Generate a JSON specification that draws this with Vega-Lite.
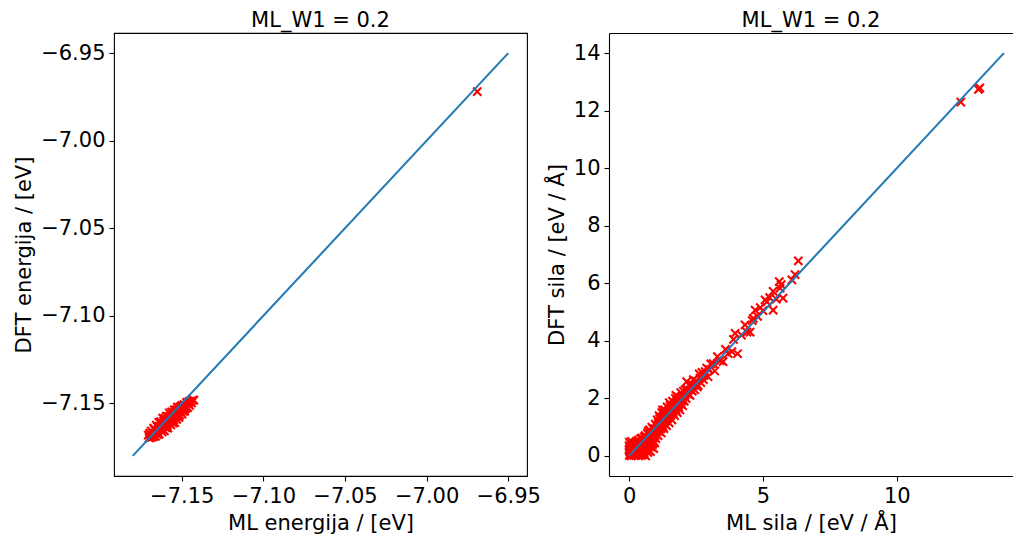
{
  "$schema": "https://vega.github.io/schema/vega-lite/v6.json",
  "padding": {"left": 13, "top": 9, "right": 0, "bottom": 2},
  "bounds": "flush",
  "spacing": 82,
  "datasets": {
    "energy": [
      {"ml": -7.1705, "dft": -7.1681}, {"ml": -7.1700, "dft": -7.1698}, {"ml": -7.1696, "dft": -7.1670}, {"ml": -7.1690, "dft": -7.1695},
      {"ml": -7.1687, "dft": -7.1658}, {"ml": -7.1681, "dft": -7.1693}, {"ml": -7.1678, "dft": -7.1666}, {"ml": -7.1672, "dft": -7.1642},
      {"ml": -7.1669, "dft": -7.1689}, {"ml": -7.1665, "dft": -7.1651}, {"ml": -7.1660, "dft": -7.1688}, {"ml": -7.1656, "dft": -7.1625},
      {"ml": -7.1652, "dft": -7.1662}, {"ml": -7.1649, "dft": -7.1634}, {"ml": -7.1645, "dft": -7.1671}, {"ml": -7.1641, "dft": -7.1608},
      {"ml": -7.1638, "dft": -7.1676}, {"ml": -7.1634, "dft": -7.1633}, {"ml": -7.1631, "dft": -7.1611}, {"ml": -7.1627, "dft": -7.1653},
      {"ml": -7.1624, "dft": -7.1616}, {"ml": -7.1620, "dft": -7.1663}, {"ml": -7.1617, "dft": -7.1585}, {"ml": -7.1613, "dft": -7.1632},
      {"ml": -7.1610, "dft": -7.1600}, {"ml": -7.1606, "dft": -7.1657}, {"ml": -7.1603, "dft": -7.1585}, {"ml": -7.1600, "dft": -7.1613},
      {"ml": -7.1597, "dft": -7.1640}, {"ml": -7.1594, "dft": -7.1573}, {"ml": -7.1591, "dft": -7.1621}, {"ml": -7.1588, "dft": -7.1594},
      {"ml": -7.1585, "dft": -7.1641}, {"ml": -7.1582, "dft": -7.1574}, {"ml": -7.1579, "dft": -7.1602}, {"ml": -7.1576, "dft": -7.1555},
      {"ml": -7.1573, "dft": -7.1617}, {"ml": -7.1570, "dft": -7.1575}, {"ml": -7.1567, "dft": -7.1623}, {"ml": -7.1564, "dft": -7.1566},
      {"ml": -7.1561, "dft": -7.1593}, {"ml": -7.1558, "dft": -7.1551}, {"ml": -7.1555, "dft": -7.1609}, {"ml": -7.1552, "dft": -7.1572},
      {"ml": -7.1549, "dft": -7.1594}, {"ml": -7.1546, "dft": -7.1537}, {"ml": -7.1543, "dft": -7.1610}, {"ml": -7.1540, "dft": -7.1558},
      {"ml": -7.1537, "dft": -7.1580}, {"ml": -7.1534, "dft": -7.1538}, {"ml": -7.1531, "dft": -7.1591}, {"ml": -7.1528, "dft": -7.1539},
      {"ml": -7.1525, "dft": -7.1561}, {"ml": -7.1522, "dft": -7.1524}, {"ml": -7.1519, "dft": -7.1577}, {"ml": -7.1516, "dft": -7.1535},
      {"ml": -7.1513, "dft": -7.1567}, {"ml": -7.1510, "dft": -7.1520}, {"ml": -7.1506, "dft": -7.1552}, {"ml": -7.1502, "dft": -7.1519},
      {"ml": -7.1498, "dft": -7.1561}, {"ml": -7.1494, "dft": -7.1518}, {"ml": -7.1490, "dft": -7.1545}, {"ml": -7.1486, "dft": -7.1507},
      {"ml": -7.1482, "dft": -7.1544}, {"ml": -7.1478, "dft": -7.1511}, {"ml": -7.1473, "dft": -7.1527}, {"ml": -7.1468, "dft": -7.1499},
      {"ml": -7.1463, "dft": -7.1525}, {"ml": -7.1458, "dft": -7.1501}, {"ml": -7.1452, "dft": -7.1512}, {"ml": -7.1446, "dft": -7.1487},
      {"ml": -7.1440, "dft": -7.1498}, {"ml": -7.1433, "dft": -7.1482}, {"ml": -7.1426, "dft": -7.1482},
      {"ml": -7.1668, "dft": -7.1649}, {"ml": -7.1658, "dft": -7.1671}, {"ml": -7.1648, "dft": -7.1679}, {"ml": -7.1639, "dft": -7.1632},
      {"ml": -7.1629, "dft": -7.1604}, {"ml": -7.1619, "dft": -7.1647}, {"ml": -7.1609, "dft": -7.1609}, {"ml": -7.1599, "dft": -7.1592},
      {"ml": -7.1589, "dft": -7.1629}, {"ml": -7.1580, "dft": -7.1583}, {"ml": -7.1571, "dft": -7.1606}, {"ml": -7.1562, "dft": -7.1549},
      {"ml": -7.1553, "dft": -7.1612}, {"ml": -7.1544, "dft": -7.1551}, {"ml": -7.1535, "dft": -7.1574}, {"ml": -7.1526, "dft": -7.1522},
      {"ml": -7.1517, "dft": -7.1580}, {"ml": -7.1508, "dft": -7.1544}, {"ml": -7.1499, "dft": -7.1512}, {"ml": -7.1489, "dft": -7.1529},
      {"ml": -7.1480, "dft": -7.1533}, {"ml": -7.1470, "dft": -7.1495}, {"ml": -7.1676, "dft": -7.1680}, {"ml": -7.1692, "dft": -7.1677},
      {"ml": -7.1456, "dft": -7.1490},
      {"ml": -6.969, "dft": -6.972}
    ],
    "force": [
      {"ml": 0.01, "dft": 0.02}, {"ml": 0.02, "dft": 0.15}, {"ml": 0.03, "dft": 0.3}, {"ml": 0.05, "dft": 0.42}, {"ml": 0.04, "dft": 0.08},
      {"ml": 0.08, "dft": 0.0}, {"ml": 0.1, "dft": 0.22}, {"ml": 0.12, "dft": 0.35}, {"ml": 0.15, "dft": 0.05}, {"ml": 0.18, "dft": 0.28},
      {"ml": 0.2, "dft": 0.12}, {"ml": 0.22, "dft": 0.45}, {"ml": 0.25, "dft": 0.02}, {"ml": 0.28, "dft": 0.2}, {"ml": 0.3, "dft": 0.38},
      {"ml": 0.32, "dft": 0.1}, {"ml": 0.35, "dft": 0.55}, {"ml": 0.38, "dft": 0.25}, {"ml": 0.4, "dft": 0.05}, {"ml": 0.42, "dft": 0.45},
      {"ml": 0.45, "dft": 0.15}, {"ml": 0.48, "dft": 0.62}, {"ml": 0.5, "dft": 0.32}, {"ml": 0.52, "dft": 0.04}, {"ml": 0.55, "dft": 0.5},
      {"ml": 0.58, "dft": 0.2}, {"ml": 0.6, "dft": 0.7}, {"ml": 0.62, "dft": 0.0}, {"ml": 0.65, "dft": 0.4}, {"ml": 0.68, "dft": 0.78},
      {"ml": 0.7, "dft": 0.12}, {"ml": 0.72, "dft": 0.6}, {"ml": 0.0, "dft": 0.2}, {"ml": 0.0, "dft": 0.35}, {"ml": 0.01, "dft": 0.48},
      {"ml": 0.06, "dft": 0.18}, {"ml": 0.09, "dft": 0.5}, {"ml": 0.14, "dft": 0.4}, {"ml": 0.16, "dft": 0.15}, {"ml": 0.24, "dft": 0.3},
      {"ml": 0.27, "dft": 0.5}, {"ml": 0.33, "dft": 0.02}, {"ml": 0.36, "dft": 0.4}, {"ml": 0.44, "dft": 0.3}, {"ml": 0.46, "dft": 0.02},
      {"ml": 0.54, "dft": 0.25}, {"ml": 0.57, "dft": 0.65}, {"ml": 0.64, "dft": 0.22}, {"ml": 0.66, "dft": 0.55}, {"ml": 0.74, "dft": 0.35},
      {"ml": 0.76, "dft": 0.9}, {"ml": 0.78, "dft": 0.5}, {"ml": 0.8, "dft": 0.15}, {"ml": 0.82, "dft": 0.7}, {"ml": 0.85, "dft": 1.0},
      {"ml": 0.88, "dft": 0.4}, {"ml": 0.9, "dft": 0.65}, {"ml": 0.92, "dft": 0.25}, {"ml": 0.95, "dft": 0.85}, {"ml": 0.98, "dft": 1.1},
      {"ml": 1.0, "dft": 0.6},
      {"ml": 0.05, "dft": 0.25}, {"ml": 0.1, "dft": 0.05}, {"ml": 0.13, "dft": 0.12}, {"ml": 0.17, "dft": 0.38}, {"ml": 0.19, "dft": 0.02},
      {"ml": 0.21, "dft": 0.25}, {"ml": 0.23, "dft": 0.1}, {"ml": 0.26, "dft": 0.42}, {"ml": 0.29, "dft": 0.08}, {"ml": 0.31, "dft": 0.28},
      {"ml": 0.34, "dft": 0.18}, {"ml": 0.37, "dft": 0.08}, {"ml": 0.39, "dft": 0.48}, {"ml": 0.41, "dft": 0.22}, {"ml": 0.43, "dft": 0.6},
      {"ml": 0.47, "dft": 0.4}, {"ml": 0.49, "dft": 0.12}, {"ml": 0.51, "dft": 0.55}, {"ml": 0.53, "dft": 0.35}, {"ml": 0.56, "dft": 0.1},
      {"ml": 0.59, "dft": 0.45}, {"ml": 0.61, "dft": 0.3}, {"ml": 0.63, "dft": 0.6}, {"ml": 0.67, "dft": 0.3}, {"ml": 0.69, "dft": 0.5},
      {"ml": 0.71, "dft": 0.85}, {"ml": 0.73, "dft": 0.2}, {"ml": 0.75, "dft": 0.65}, {"ml": 0.77, "dft": 0.4}, {"ml": 0.79, "dft": 0.75},
      {"ml": 0.81, "dft": 0.45}, {"ml": 0.83, "dft": 0.3}, {"ml": 0.86, "dft": 0.6}, {"ml": 0.87, "dft": 0.8}, {"ml": 0.89, "dft": 0.95},
      {"ml": 0.91, "dft": 0.5}, {"ml": 0.93, "dft": 0.7}, {"ml": 0.96, "dft": 0.45}, {"ml": 0.97, "dft": 0.95}, {"ml": 0.99, "dft": 0.8},
      {"ml": 1.03, "dft": 1.05}, {"ml": 1.06, "dft": 0.9}, {"ml": 1.09, "dft": 1.15}, {"ml": 1.11, "dft": 0.85}, {"ml": 1.14, "dft": 1.3},
      {"ml": 1.16, "dft": 1.1}, {"ml": 1.19, "dft": 0.95}, {"ml": 1.21, "dft": 1.3}, {"ml": 1.24, "dft": 1.2}, {"ml": 1.27, "dft": 1.0},
      {"ml": 1.29, "dft": 1.5}, {"ml": 1.32, "dft": 1.25}, {"ml": 1.36, "dft": 1.35}, {"ml": 1.39, "dft": 1.25}, {"ml": 1.41, "dft": 1.45},
      {"ml": 1.44, "dft": 1.55}, {"ml": 1.47, "dft": 1.35}, {"ml": 1.52, "dft": 1.45}, {"ml": 1.57, "dft": 1.5}, {"ml": 1.61, "dft": 1.6},
      {"ml": 1.66, "dft": 1.65}, {"ml": 1.72, "dft": 1.7}, {"ml": 1.77, "dft": 1.75}, {"ml": 1.82, "dft": 1.85}, {"ml": 1.87, "dft": 1.8},
      {"ml": 1.92, "dft": 1.95}, {"ml": 1.97, "dft": 1.9}, {"ml": 2.08, "dft": 2.1}, {"ml": 2.18, "dft": 2.3}, {"ml": 2.3, "dft": 2.3},
      {"ml": 2.42, "dft": 2.45}, {"ml": 2.52, "dft": 2.5}, {"ml": 2.65, "dft": 2.7}, {"ml": 2.8, "dft": 2.8}, {"ml": 3.0, "dft": 3.0},
      {"ml": 1.25, "dft": 1.6}, {"ml": 1.5, "dft": 1.85}, {"ml": 1.75, "dft": 2.1},
      {"ml": 1.02, "dft": 0.85}, {"ml": 1.05, "dft": 1.25}, {"ml": 1.08, "dft": 0.7}, {"ml": 1.1, "dft": 1.05}, {"ml": 1.12, "dft": 1.4},
      {"ml": 1.15, "dft": 0.95}, {"ml": 1.18, "dft": 1.2}, {"ml": 1.2, "dft": 0.8}, {"ml": 1.22, "dft": 1.5}, {"ml": 1.25, "dft": 1.05},
      {"ml": 1.28, "dft": 1.35}, {"ml": 1.3, "dft": 0.95}, {"ml": 1.33, "dft": 1.6}, {"ml": 1.35, "dft": 1.2}, {"ml": 1.38, "dft": 1.45},
      {"ml": 1.4, "dft": 1.05}, {"ml": 1.42, "dft": 1.7}, {"ml": 1.45, "dft": 1.3}, {"ml": 1.48, "dft": 1.55}, {"ml": 1.5, "dft": 1.15},
      {"ml": 1.53, "dft": 1.75}, {"ml": 1.55, "dft": 1.4}, {"ml": 1.58, "dft": 1.65}, {"ml": 1.6, "dft": 1.25}, {"ml": 1.62, "dft": 1.9},
      {"ml": 1.65, "dft": 1.5}, {"ml": 1.68, "dft": 1.75}, {"ml": 1.7, "dft": 1.4}, {"ml": 1.73, "dft": 2.0}, {"ml": 1.75, "dft": 1.6},
      {"ml": 1.78, "dft": 1.85}, {"ml": 1.8, "dft": 1.5}, {"ml": 1.83, "dft": 2.05}, {"ml": 1.85, "dft": 1.7}, {"ml": 1.88, "dft": 1.95},
      {"ml": 1.9, "dft": 1.6}, {"ml": 1.93, "dft": 2.2}, {"ml": 1.95, "dft": 1.8}, {"ml": 1.98, "dft": 2.05}, {"ml": 2.0, "dft": 1.75},
      {"ml": 2.03, "dft": 2.25}, {"ml": 2.06, "dft": 1.9}, {"ml": 2.1, "dft": 2.3}, {"ml": 2.13, "dft": 2.0}, {"ml": 2.15, "dft": 2.58},
      {"ml": 2.2, "dft": 2.15}, {"ml": 2.25, "dft": 2.45}, {"ml": 2.28, "dft": 2.1}, {"ml": 2.32, "dft": 2.5}, {"ml": 2.36, "dft": 2.25},
      {"ml": 2.4, "dft": 2.65}, {"ml": 2.45, "dft": 2.3}, {"ml": 2.5, "dft": 2.6}, {"ml": 2.55, "dft": 2.4}, {"ml": 2.58, "dft": 2.45},
      {"ml": 2.62, "dft": 2.85}, {"ml": 2.68, "dft": 2.55}, {"ml": 2.72, "dft": 2.9}, {"ml": 2.78, "dft": 2.65}, {"ml": 2.84, "dft": 2.93},
      {"ml": 2.9, "dft": 3.05}, {"ml": 2.95, "dft": 2.75},
      {"ml": 3.05, "dft": 3.2}, {"ml": 3.14, "dft": 3.21}, {"ml": 3.2, "dft": 2.95}, {"ml": 3.3, "dft": 3.45}, {"ml": 3.4, "dft": 3.3},
      {"ml": 3.51, "dft": 3.28}, {"ml": 3.6, "dft": 3.7}, {"ml": 3.7, "dft": 3.55}, {"ml": 3.84, "dft": 3.62}, {"ml": 3.9, "dft": 4.05},
      {"ml": 3.96, "dft": 4.26}, {"ml": 4.05, "dft": 3.55},
      {"ml": 4.2, "dft": 4.2}, {"ml": 4.33, "dft": 4.55}, {"ml": 4.4, "dft": 4.3}, {"ml": 4.52, "dft": 4.3}, {"ml": 4.6, "dft": 4.7},
      {"ml": 4.64, "dft": 4.78}, {"ml": 4.71, "dft": 5.07}, {"ml": 4.8, "dft": 4.85}, {"ml": 4.9, "dft": 5.15}, {"ml": 5.0, "dft": 5.05},
      {"ml": 5.08, "dft": 5.42}, {"ml": 5.15, "dft": 5.35}, {"ml": 5.25, "dft": 5.5}, {"ml": 5.38, "dft": 5.72}, {"ml": 5.38, "dft": 5.07},
      {"ml": 5.5, "dft": 5.45}, {"ml": 5.61, "dft": 6.06}, {"ml": 5.64, "dft": 5.83}, {"ml": 5.75, "dft": 5.48}, {"ml": 5.68, "dft": 5.95},
      {"ml": 6.08, "dft": 6.12}, {"ml": 6.2, "dft": 6.3}, {"ml": 6.32, "dft": 6.78},
      {"ml": 12.39, "dft": 12.3}, {"ml": 13.05, "dft": 12.74}, {"ml": 13.1, "dft": 12.79}
    ],
    "eline": [{"v": -7.18}, {"v": -6.95}],
    "fline": [{"v": 0}, {"v": 14}]
  },
  "hconcat": [
    {
      "width": 413,
      "height": 443,
      "title": "ML_W1 = 0.2",
      "view": {"stroke": "black", "strokeWidth": 1.1},
      "layer": [
        {
          "data": {"name": "energy"},
          "mark": {"type": "point", "shape": "M-1,-1L1,1M-1,1L1,-1", "size": 68, "strokeWidth": 2.1, "color": "red", "filled": false, "opacity": 1},
          "encoding": {
            "x": {"field": "ml", "type": "quantitative", "scale": {"domain": [-7.1915, -6.9385], "nice": false, "zero": false},
                  "axis": {"values": [-7.15, -7.10, -7.05, -7.00, -6.95], "format": ".2f", "title": "ML energija / [eV]"}},
            "y": {"field": "dft", "type": "quantitative", "scale": {"domain": [-7.1915, -6.9385], "nice": false, "zero": false},
                  "axis": {"values": [-7.15, -7.10, -7.05, -7.00, -6.95], "format": ".2f", "title": "DFT energija / [eV]"}}
          }
        },
        {
          "data": {"name": "eline"},
          "mark": {"type": "line", "color": "#1f77b4", "strokeWidth": 2},
          "encoding": {
            "x": {"field": "v", "type": "quantitative"},
            "y": {"field": "v", "type": "quantitative"}
          }
        }
      ]
    },
    {
      "width": 404,
      "height": 443,
      "title": "ML_W1 = 0.2",
      "view": {"stroke": null},
      "resolve": {"axis": {"x": "independent"}},
      "layer": [
        {
          "data": {"name": "force"},
          "mark": {"type": "point", "shape": "M-1,-1L1,1M-1,1L1,-1", "size": 68, "strokeWidth": 2.1, "color": "red", "filled": false, "opacity": 1},
          "encoding": {
            "x": {"field": "ml", "type": "quantitative", "scale": {"domain": [-0.75, 14.34], "nice": false, "zero": false},
                  "axis": {"values": [0, 5, 10], "title": "ML sila / [eV / Å]", "domain": true}},
            "y": {"field": "dft", "type": "quantitative", "scale": {"domain": [-0.7, 14.7], "nice": false, "zero": false},
                  "axis": {"values": [0, 2, 4, 6, 8, 10, 12, 14], "title": "DFT sila / [eV / Å]", "domain": true}}
          }
        },
        {
          "data": {"name": "fline"},
          "mark": {"type": "line", "color": "#1f77b4", "strokeWidth": 2},
          "encoding": {
            "x": {"field": "v", "type": "quantitative", "scale": {"domain": [-0.75, 14.34], "nice": false, "zero": false},
                  "axis": {"orient": "top", "labels": false, "ticks": false, "title": null, "domain": true}},
            "y": {"field": "v", "type": "quantitative",
                  "axis": {"values": [0, 2, 4, 6, 8, 10, 12, 14], "title": "DFT sila / [eV / Å]", "domain": true}}
          }
        }
      ]
    }
  ],
  "config": {
    "font": "DejaVu Sans",
    "axis": {
      "grid": false, "domain": false, "domainColor": "black", "domainWidth": 1.1,
      "tickColor": "black", "tickSize": 5, "tickWidth": 1.1,
      "labelFontSize": 21, "labelColor": "black", "labelPadding": 4, "labelFont": "DejaVu Sans",
      "titleFontSize": 21, "titleFontWeight": "normal", "titleColor": "black", "titleFont": "DejaVu Sans", "titlePadding": 6
    },
    "title": {"fontSize": 21, "fontWeight": "normal", "font": "DejaVu Sans", "color": "black", "offset": 2}
  }
}
